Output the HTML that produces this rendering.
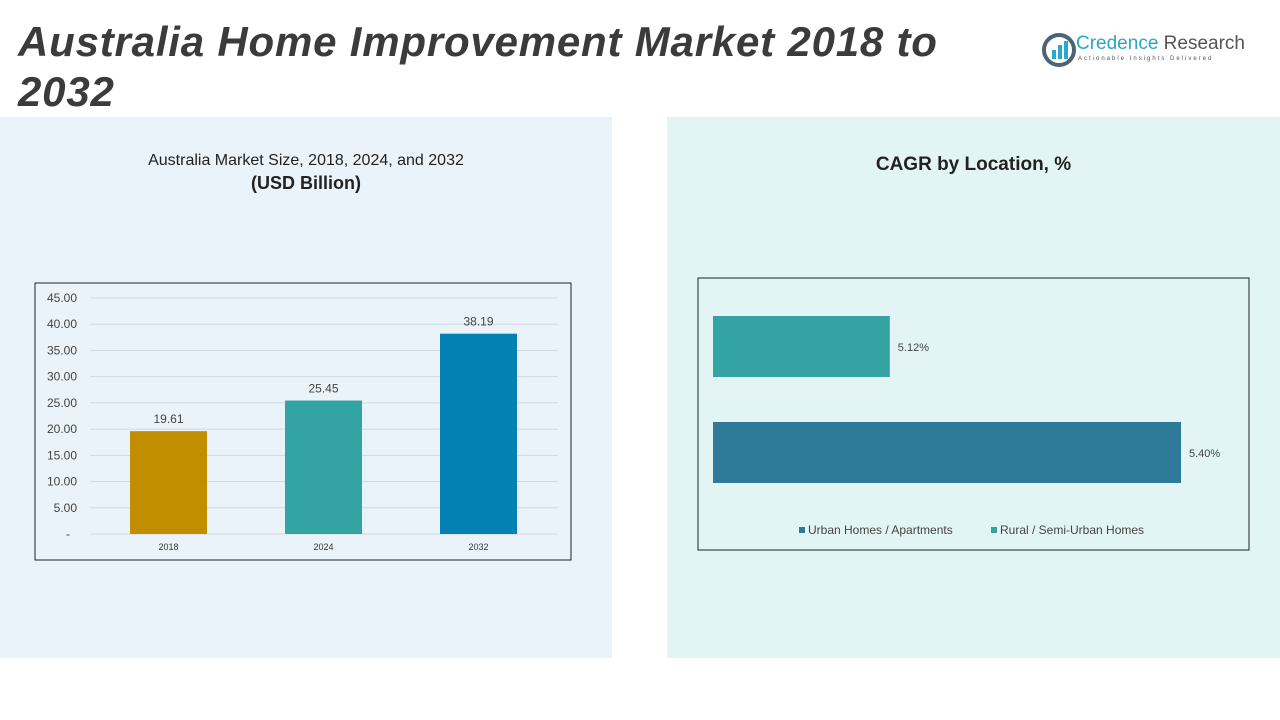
<!DOCTYPE html>
<html><head><meta charset="utf-8"><style>
body{margin:0;width:1280px;height:720px;background:#fff;position:relative;overflow:hidden;font-family:"Liberation Sans",sans-serif}
.abs{position:absolute}
</style></head><body>
<div class="abs" style="left:0;top:117px;width:612px;height:541px;background:#eaf3f9"></div>
<div class="abs" style="left:667px;top:117px;width:613px;height:541px;background:#e2f4f4"></div>
<div class="abs" style="left:18px;top:17px;width:960px;font-size:42px;line-height:50px;letter-spacing:0.8px;font-weight:bold;font-style:italic;color:#3b3b3b">Australia Home Improvement Market 2018 to<br>2032</div>
<div class="abs" style="left:1040px;top:30px;width:220px;height:40px">
<svg width="34" height="34" viewBox="0 0 34 34" style="position:absolute;left:2px;top:3px"><circle cx="17" cy="17" r="15" fill="none" stroke="#4b6475" stroke-width="4"/><rect x="10" y="17" width="4" height="9" fill="#29a9c9"/><rect x="16" y="12" width="4" height="14" fill="#29a9c9"/><rect x="22" y="8" width="4" height="18" fill="#29a9c9"/></svg>
<div class="abs" style="left:36px;top:3px;font-size:19px;color:#2aa6c4;white-space:nowrap">Credence <span style="color:#555">Research</span></div>
<div class="abs" style="left:38px;top:26px;font-size:6px;letter-spacing:2px;color:#555;white-space:nowrap">Actionable Insights Delivered</div>
</div>
<div class="abs" style="left:0;top:152px;width:612px;text-align:center;font-size:16px;color:#222">Australia Market Size, 2018, 2024, and 2032<br><b style="font-size:18px;line-height:26px">(USD Billion)</b></div>
<div class="abs" style="left:667px;top:154px;width:613px;text-align:center;font-size:19px;font-weight:bold;color:#222">CAGR by Location, %</div>
<svg class="abs" style="left:0;top:0" width="1280" height="720" id="charts">
<rect x="35" y="283" width="536" height="277" fill="none" stroke="#222" stroke-width="1"/>
<rect x="698" y="278" width="551" height="272" fill="none" stroke="#222" stroke-width="1"/>
<g id="g1"></g><g id="g2"></g>
</svg>
<script>
const years=["2018","2024","2032"];
const sizes=[19.61,25.45,38.19];
const yTicks=[0,5,10,15,20,25,30,35,40,45];
const barColors=["#c08e00","#33a3a3","#0381b3"];
const locs=["Rural / Semi-Urban Homes","Urban Homes / Apartments"];
const cagr=[5.12,5.40];
const locColors=["#33a3a3","#2f7a99"];
const NS="http://www.w3.org/2000/svg";
function mk(p,t,a,txt){const e=document.createElementNS(NS,t);for(const k in a)e.setAttribute(k,a[k]);if(txt!==undefined)e.textContent=txt;p.appendChild(e);return e;}
const g1=document.getElementById('g1');
const y=v=>534-v*(236/45);const x0=90,cw=155;
yTicks.forEach(t=>{
 const l=mk(g1,'line',{x1:90,x2:558,y1:y(t),y2:y(t),stroke:'#d3d9de','stroke-width':1});
 
 
 const tx=mk(g1,'text',{x:t===0?70:77,y:y(t)+4,'text-anchor':'end','font-size':12,fill:'#444'},t===0?'-':t.toFixed(2));
 
 
});
years.forEach((c,i)=>{
 const bx=x0+cw*i+40;
 const r=mk(g1,'rect',{x:bx,y:y(sizes[i]),width:77,height:534-y(sizes[i]),fill:barColors[i]});
 
 
 const v=mk(g1,'text',{x:bx+38.5,y:y(sizes[i])-8,'text-anchor':'middle','font-size':12,fill:'#444'},sizes[i].toFixed(2));
 
 
 const lb=mk(g1,'text',{x:bx+38.5,y:550,'text-anchor':'middle','font-size':9,fill:'#333'},c);
 
 
});
const g2=document.getElementById('g2');
const xmin=4.95,xs=v=>713+(v-xmin)*(468/(5.40-xmin));
const rowY=[316,422];
locs.forEach((c,i)=>{
 const r=mk(g2,'rect',{x:713,y:rowY[i],width:xs(cagr[i])-713,height:61,fill:locColors[i]});
 
 
 const v=mk(g2,'text',{x:xs(cagr[i])+8,y:rowY[i]+35,'font-size':11,fill:'#444'},cagr[i].toFixed(2)+'%');
 
 
});
[[1],[0]].forEach((o,k)=>{
 const i=o[0];const lx=k===0?799:991;
 const s=mk(g2,'rect',{x:lx,y:527,width:6,height:6,fill:locColors[i]});
 
 
 const t=mk(g2,'text',{x:lx+9,y:534,'font-size':12,fill:'#444'},locs[i]);
 
 
});
</script>
</body></html>
